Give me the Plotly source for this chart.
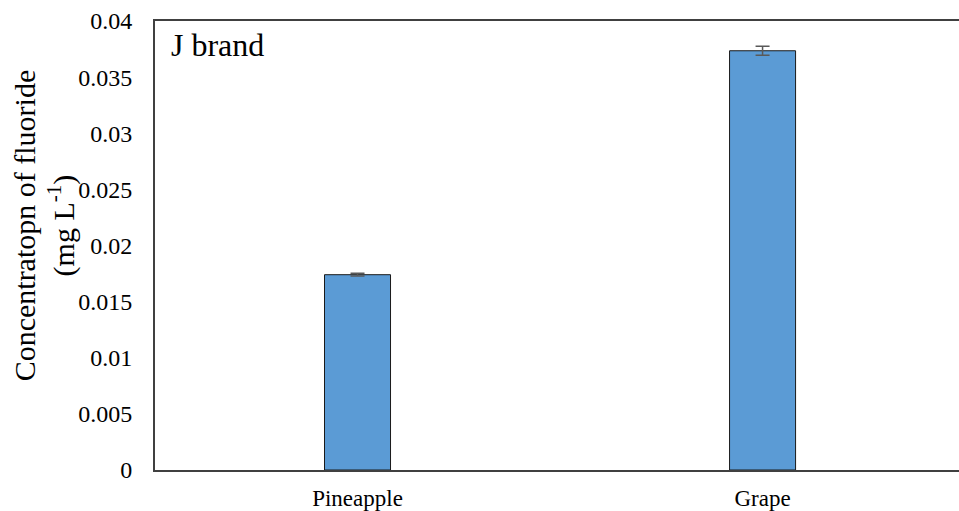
import plotly.graph_objects as go

# Fluoride concentration in J brand juices
categories = ["Pineapple", "Grape"]
concentration = [0.0174, 0.03735]
std_error = [0.00012, 0.0004]
y_ticks = [0, 0.005, 0.01, 0.015, 0.02, 0.025, 0.03, 0.035, 0.04]
y_tick_text = ["0", "0.005", "0.01", "0.015", "0.02", "0.025", "0.03", "0.035", "0.04"]
y_title = "Concentratopn of fluoride<br>(mg L<sup>-1</sup>)"

serif = "Liberation Serif"

fig = go.Figure(
    go.Bar(
        x=categories,
        y=concentration,
        width=0.163,
        marker=dict(color="#5B9BD5", line=dict(color="#1a1a1a", width=1)),
        error_y=dict(type="data", array=std_error, visible=True,
                     color="#595959", thickness=1.5, width=7),
    )
)

fig.update_layout(
    width=959,
    height=511,
    margin=dict(l=155, r=0, t=21, b=41),
    paper_bgcolor="white",
    plot_bgcolor="white",
    showlegend=False,
    font=dict(family=serif, color="#000000"),
    xaxis=dict(
        range=[-0.5, 1.485],
        showline=True, linecolor="#404040", linewidth=2, mirror=True,
        ticks="", showgrid=False,
        tickfont=dict(size=23, family=serif),
        ticklabelstandoff=6,
    ),
    yaxis=dict(
        range=[0, 0.04],
        tickvals=y_ticks, ticktext=y_tick_text,
        showline=True, linecolor="#404040", linewidth=2,
        ticks="", showgrid=False, zeroline=False,
        tickfont=dict(size=24, family=serif),
        ticklabelstandoff=16,
    ),
    annotations=[
        # rotated two-line axis title
        dict(text=y_title, x=-0.138, y=0.545, xref="paper", yref="paper",
             xanchor="center", yanchor="middle", textangle=-90,
             showarrow=False, font=dict(size=30, family=serif)),
        dict(text="J brand", x=0.0174, y=0.99, xref="paper", yref="paper",
             xanchor="left", yanchor="top", showarrow=False,
             font=dict(size=32, family=serif)),
    ],
)

fig.write_html("out.html")
